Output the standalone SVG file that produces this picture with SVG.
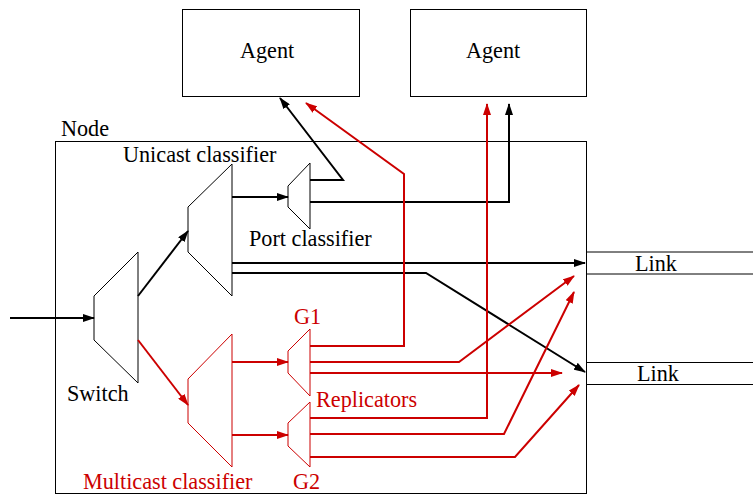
<svg xmlns="http://www.w3.org/2000/svg" width="753" height="495" viewBox="0 0 753 495">
<defs>
<style>
text{font-family:"Liberation Serif","Times New Roman",serif;font-size:22.2px;fill:#000}
text.r{fill:#cc0000}
.box{fill:#fff;stroke:#000;stroke-width:1}
.trap{fill:#fff;stroke:#000;stroke-width:1}
.trap.r{stroke:#cc0000}
.c{fill:none;stroke:#000;stroke-width:2;marker-end:url(#ab)}
.c.r{stroke:#cc0000;marker-end:url(#ar)}
.link{stroke:#000;stroke-width:1}
</style>
<marker id="ab" markerUnits="userSpaceOnUse" markerWidth="12" markerHeight="8" refX="11" refY="4" orient="auto"><path d="M0,0 L12,4 L0,8 z" fill="#000"/></marker>
<marker id="ar" markerUnits="userSpaceOnUse" markerWidth="12" markerHeight="8" refX="11" refY="4" orient="auto"><path d="M0,0 L12,4 L0,8 z" fill="#cc0000"/></marker>
</defs>
<rect width="753" height="495" fill="#fff"/>

<g id="node">
<rect class="box" x="55.5" y="141.5" width="531" height="352"/>
<text x="61" y="136">Node</text>
</g>

<g id="agent1">
<rect class="box" x="182.5" y="9.5" width="177" height="87"/>
<text x="240" y="58">Agent</text>
</g>
<g id="agent2">
<rect class="box" x="410.5" y="9.5" width="176" height="87"/>
<text x="466" y="58">Agent</text>
</g>

<g id="link1">
<line class="link" x1="586" y1="252" x2="753" y2="252"/>
<line class="link" x1="586" y1="274" x2="753" y2="274"/>
<text x="635" y="271">Link</text>
</g>
<g id="link2">
<line class="link" x1="586" y1="362.5" x2="753" y2="362.5"/>
<line class="link" x1="586" y1="384.5" x2="753" y2="384.5"/>
<text x="637" y="381">Link</text>
</g>

<g id="switch">
<polygon class="trap" points="94,296 138,252 138,383 94,340"/>
<text x="67" y="401">Switch</text>
</g>
<g id="unicast">
<polygon class="trap" points="188,207 232,164 232,296 188,252"/>
<text x="123" y="162">Unicast classifier</text>
</g>
<g id="port">
<polygon class="trap" points="288,186 310,163 310,229 288,207"/>
<text x="249" y="246">Port classifier</text>
</g>
<g id="multicast">
<polygon class="trap r" points="188,379 232,334 232,467 188,423"/>
<text class="r" x="83" y="489">Multicast classifier</text>
</g>
<g id="g1">
<polygon class="trap r" points="288,351 310,329 310,396 288,373"/>
<text class="r" x="294" y="324">G1</text>
</g>
<g id="g2">
<polygon class="trap r" points="288,423 310,402 310,467 288,446"/>
<text class="r" x="293" y="489">G2</text>
</g>
<text class="r" x="316" y="407">Replicators</text>

<g id="connectors">
<path class="c" d="M10,318 L94,318"/>
<path class="c" d="M138,296 L188,231"/>
<path class="c" d="M232,197 L288,197"/>
<path class="c" d="M310,180 L343,180 L280,98"/>
<path class="c" d="M310,202 L509,202 L509,104"/>
<path class="c" d="M232,263 L585,263"/>
<path class="c" d="M232,273 L426,273 L585,372"/>

<path class="c r" d="M138,340 L188,405"/>
<path class="c r" d="M232,362 L288,362"/>
<path class="c r" d="M232,435 L288,435"/>
<path class="c r" d="M310,346 L404,346 L404,174 L306,103"/>
<path class="c r" d="M310,362 L459,362 L574,276"/>
<path class="c r" d="M310,373 L562,373"/>
<path class="c r" d="M310,418 L487,418 L487,104"/>
<path class="c r" d="M310,434 L504,434 L574,292"/>
<path class="c r" d="M310,457 L515,457 L579,385"/>
</g>
</svg>
